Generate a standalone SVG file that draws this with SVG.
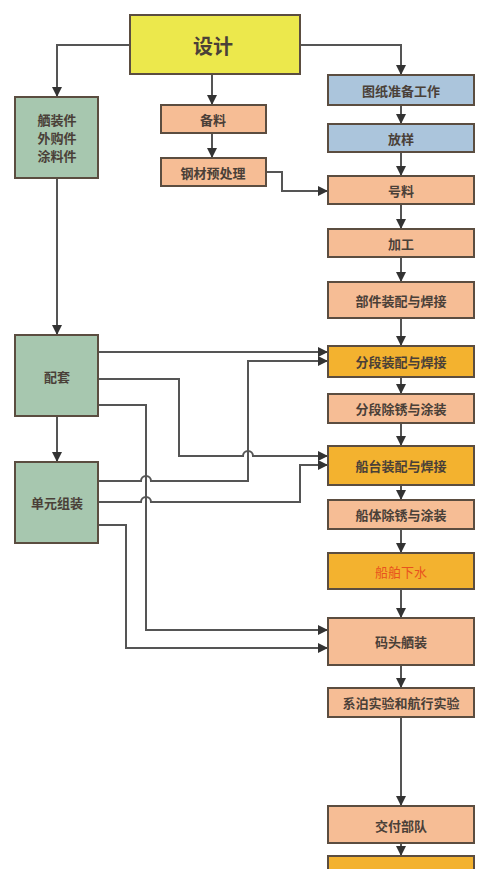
<svg xmlns="http://www.w3.org/2000/svg" width="496" height="869" viewBox="0 0 496 869">
<style>
.b{stroke:#5b4d40;stroke-width:2}
.y{fill:#ece84c}
.g{fill:#a7c7af}
.bl{fill:#abc5dc}
.p{fill:#f6bd95}
.o{fill:#f3b22f}
.t{font-family:"Noto Sans CJK SC","Noto Sans",sans-serif;font-size:13px;font-weight:bold;fill:#4a4038;text-anchor:middle;dominant-baseline:central}
.c{fill:none;stroke:#555;stroke-width:2}
</style>
<defs>
<marker id="a" viewBox="0 0 10 10" refX="9" refY="5" markerWidth="5" markerHeight="5" orient="auto" markerUnits="strokeWidth">
<path d="M0,0 L10,5 L0,10 z" fill="#333"/>
</marker>
</defs>
<rect width="496" height="869" fill="#fff"/>
<g id="connectors">
<path class="c" d="M130,45 H57 V96" marker-end="url(#a)"/>
<path class="c" d="M300,45 H401 V74" marker-end="url(#a)"/>
<path class="c" d="M212,74 V104" marker-end="url(#a)"/>
<path class="c" d="M212,133 V157" marker-end="url(#a)"/>
<path class="c" d="M266,172 H282 V191 H327" marker-end="url(#a)"/>
<path class="c" d="M401,105 V123" marker-end="url(#a)"/>
<path class="c" d="M401,152 V175" marker-end="url(#a)"/>
<path class="c" d="M401,204 V228" marker-end="url(#a)"/>
<path class="c" d="M401,257 V281" marker-end="url(#a)"/>
<path class="c" d="M401,318 V345" marker-end="url(#a)"/>
<path class="c" d="M401,377 V393" marker-end="url(#a)"/>
<path class="c" d="M401,423 V445" marker-end="url(#a)"/>
<path class="c" d="M401,485 V499" marker-end="url(#a)"/>
<path class="c" d="M401,529 V552" marker-end="url(#a)"/>
<path class="c" d="M401,589 V617" marker-end="url(#a)"/>
<path class="c" d="M401,665 V687" marker-end="url(#a)"/>
<path class="c" d="M401,717 V805" marker-end="url(#a)"/>
<path class="c" d="M401,843 V855" marker-end="url(#a)"/>
<path class="c" d="M57,178 V334" marker-end="url(#a)"/>
<path class="c" d="M57,416 V461" marker-end="url(#a)"/>
<path class="c" d="M98,352 H327" marker-end="url(#a)"/>
<path class="c" d="M98,379 H179 V456 H243 A5,5 0 0 1 253,456 H327" marker-end="url(#a)"/>
<path class="c" d="M98,405 H146 V630 H327" marker-end="url(#a)"/>
<path class="c" d="M98,481 H141 A5,5 0 0 1 151,481 H248 V361 H327" marker-end="url(#a)"/>
<path class="c" d="M98,502 H141 A5,5 0 0 1 151,502 H300 V465 H327" marker-end="url(#a)"/>
<path class="c" d="M98,525 H126 V648 H327" marker-end="url(#a)"/>
</g>
<g id="n_design"><rect class="b y" x="130" y="15" width="170" height="59"/><text class="t" x="213" y="45" style="font-size:20px">设计</text></g>
<g id="n_outfit"><rect class="b g" x="15" y="97" width="83" height="81"/><text class="t" x="57" y="119">舾装件</text><text class="t" x="57" y="137">外购件</text><text class="t" x="57" y="155">涂料件</text></g>
<g id="n_match"><rect class="b g" x="15" y="335" width="83" height="81"/><text class="t" x="57" y="376">配套</text></g>
<g id="n_unit"><rect class="b g" x="15" y="462" width="83" height="81"/><text class="t" x="57" y="502">单元组装</text></g>
<g id="n_prep"><rect class="b p" x="161" y="105" width="105" height="28"/><text class="t" x="213" y="119">备料</text></g>
<g id="n_steel"><rect class="b p" x="161" y="158" width="105" height="28"/><text class="t" x="213" y="172">钢材预处理</text></g>
<g id="n_draw"><rect class="b bl" x="328" y="75" width="146" height="30"/><text class="t" x="401" y="90">图纸准备工作</text></g>
<g id="n_loft"><rect class="b bl" x="328" y="124" width="146" height="28"/><text class="t" x="401" y="138">放样</text></g>
<g id="n_mark"><rect class="b p" x="328" y="176" width="146" height="28"/><text class="t" x="401" y="190">号料</text></g>
<g id="n_proc"><rect class="b p" x="328" y="229" width="146" height="28"/><text class="t" x="401" y="243">加工</text></g>
<g id="n_part"><rect class="b p" x="328" y="282" width="146" height="36"/><text class="t" x="401" y="300">部件装配与焊接</text></g>
<g id="n_block"><rect class="b o" x="328" y="346" width="146" height="31"/><text class="t" x="401" y="361">分段装配与焊接</text></g>
<g id="n_blockpaint"><rect class="b p" x="328" y="394" width="146" height="29"/><text class="t" x="401" y="408">分段除锈与涂装</text></g>
<g id="n_berth"><rect class="b o" x="328" y="446" width="146" height="39"/><text class="t" x="401" y="465">船台装配与焊接</text></g>
<g id="n_hullpaint"><rect class="b p" x="328" y="500" width="146" height="29"/><text class="t" x="401" y="514">船体除锈与涂装</text></g>
<g id="n_launch"><rect class="b o" x="328" y="553" width="146" height="36"/><text class="t" x="401" y="571" style="fill:#e8531e;font-weight:normal">船舶下水</text></g>
<g id="n_quay"><rect class="b p" x="328" y="618" width="146" height="47"/><text class="t" x="401" y="641">码头舾装</text></g>
<g id="n_trial"><rect class="b p" x="328" y="688" width="146" height="29"/><text class="t" x="401" y="702">系泊实验和航行实验</text></g>
<g id="n_deliver"><rect class="b p" x="328" y="806" width="146" height="37"/><text class="t" x="401" y="825">交付部队</text></g>
<g id="n_last"><rect class="b o" x="328" y="856" width="146" height="20"/></g>
</svg>
